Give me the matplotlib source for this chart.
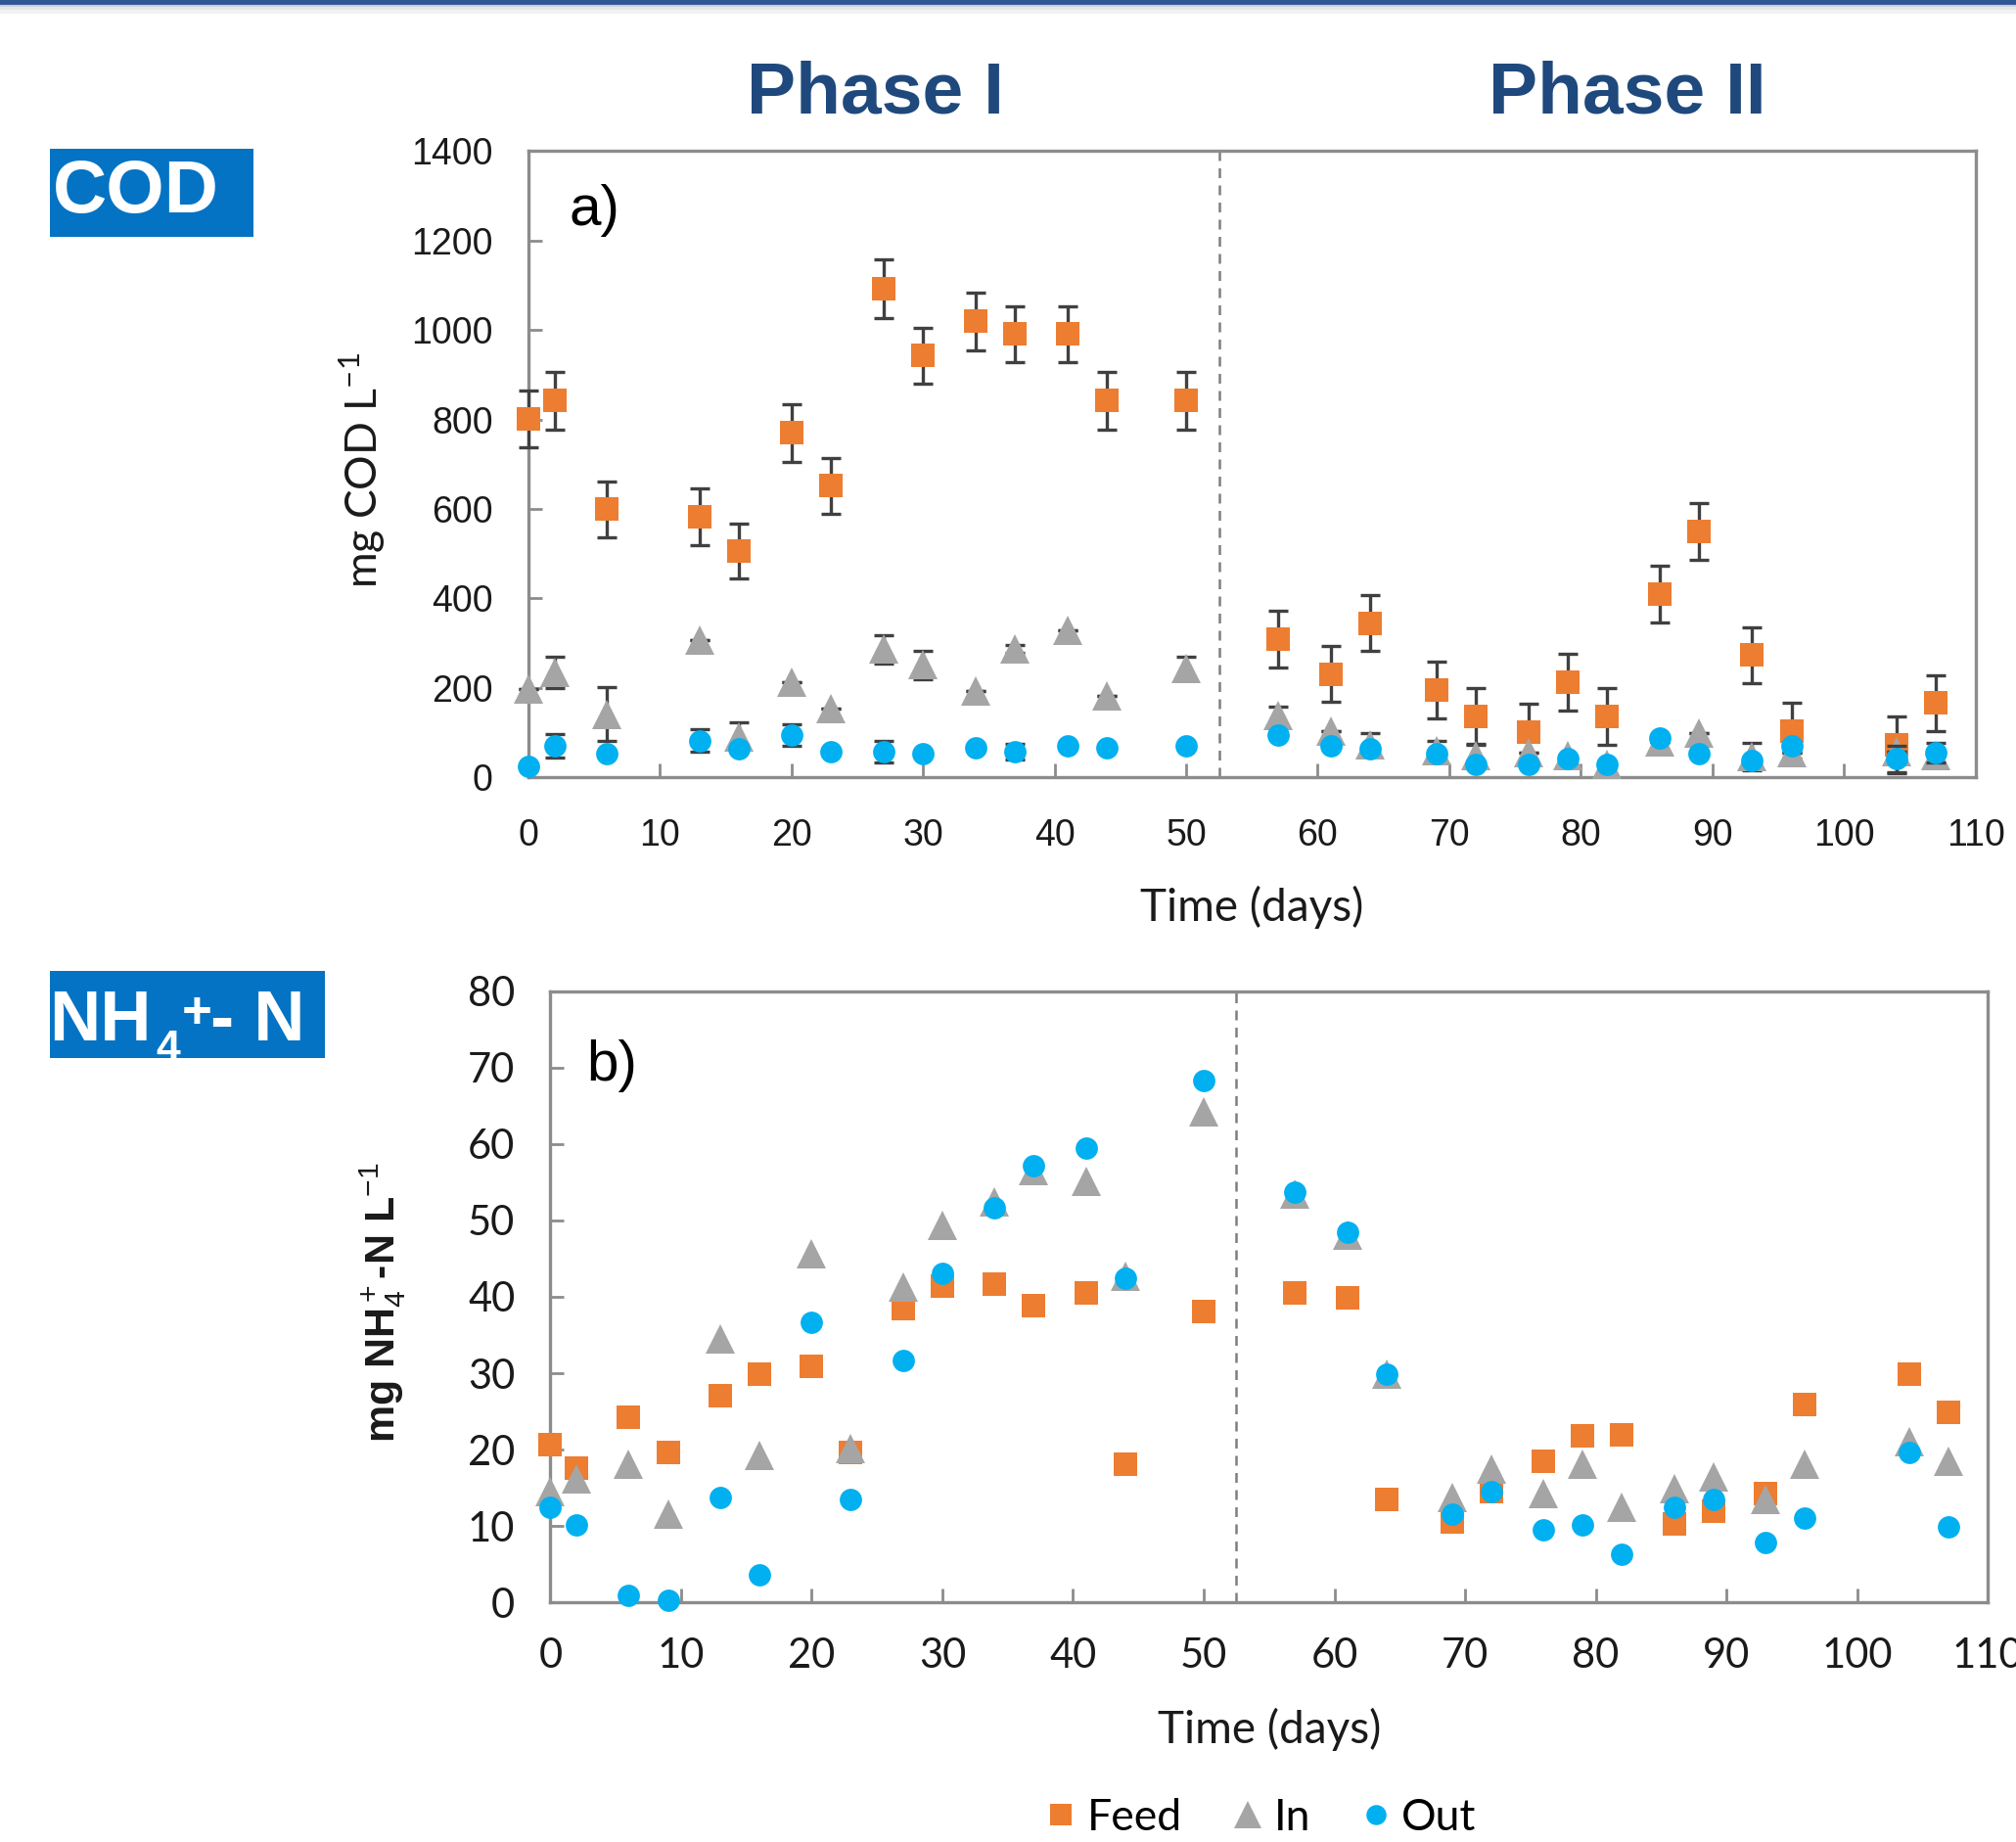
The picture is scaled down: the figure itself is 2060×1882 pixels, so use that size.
import matplotlib
matplotlib.use("Agg")
import matplotlib.pyplot as plt
from matplotlib.patches import Rectangle
from matplotlib.lines import Line2D

# ---------------- data ----------------
days_cod = [0, 2, 6, 13, 16, 20, 23, 27, 30, 34, 37, 41, 44, 50,
            57, 61, 64, 69, 72, 76, 79, 82, 86, 89, 93, 96, 104, 107]
cod_feed = [801, 842, 599, 583, 506, 770, 652, 1092, 943, 1019, 991, 991, 842, 842,
            309, 231, 345, 195, 136, 101, 213, 136, 409, 550, 273, 104, 73, 166]
cod_feed_err = [64, 64, 62, 63, 62, 65, 62, 65, 62, 65, 62, 62, 64, 64,
                64, 63, 63, 63, 63, 63, 63, 63, 63, 63, 63, 63, 63, 63]
cod_in = [198, 234, 141, 306, 91, 213, 153, 286, 251, 194, 287, 328, 181, 243,
          138, 104, 73, 60, 49, 55, 49, 29, 80, 99, 46, 55, 58, 49]
cod_in_err = [0, 35, 60, 0, 33, 0, 0, 32, 31, 0, 8, 0, 0, 27,
              20, 0, 25, 22, 26, 0, 0, 0, 0, 0, 31, 0, 0, 0]
cod_out = [24, 70, 53, 82, 63, 94, 57, 57, 53, 65, 57, 70, 65, 70,
           94, 70, 63, 53, 28, 28, 41, 28, 88, 53, 38, 70, 41, 55]
cod_out_err = [0, 26, 0, 25, 0, 24, 0, 24, 0, 0, 18, 0, 0, 0,
               0, 0, 0, 0, 0, 0, 0, 0, 0, 0, 0, 0, 30, 21]

days_nh4 = [0, 2, 6, 9, 13, 16, 20, 23, 27, 30, 34, 37, 41, 44, 50,
            57, 61, 64, 69, 72, 76, 79, 82, 86, 89, 93, 96, 104, 107]
nh4_feed = [20.6, 17.6, 24.2, 19.6, 27.1, 29.9, 30.9, 19.6, 38.4, 41.4, 41.7, 38.8, 40.5, 18.1, 38.1,
            40.5, 39.8, 13.5, 10.6, 14.5, 18.5, 21.8, 22.0, 10.3, 12.0, 14.2, 25.9, 29.9, 24.9]
nh4_in = [14.5, 16.2, 18.1, 11.6, 34.5, 19.2, 45.6, 20.1, 41.3, 49.3, 52.4, 56.5, 55.1, 42.7, 64.2,
          53.4, 48.0, 29.9, 13.8, 17.5, 14.2, 18.1, 12.5, 14.9, 16.4, 13.5, 18.1, 21.1, 18.5]
nh4_out = [12.4, 10.2, 1.0, 0.3, 13.8, 3.6, 36.6, 13.5, 31.7, 43.1, 51.7, 57.2, 59.5, 42.4, 68.3,
           53.7, 48.4, 29.9, 11.6, 14.5, 9.5, 10.2, 6.3, 12.5, 13.5, 7.8, 11.0, 19.6, 9.9]

series_labels = ["Feed", "In", "Out"]
phase_labels = ["Phase I", "Phase II"]
phase_split = 52.5
cod_yticks = [0, 200, 400, 600, 800, 1000, 1200, 1400]
nh4_yticks = [0, 10, 20, 30, 40, 50, 60, 70, 80]
xticks = [0, 10, 20, 30, 40, 50, 60, 70, 80, 90, 100, 110]

# ---------------- style ----------------
C_FEED = "#ED7D31"
C_IN = "#A5A5A5"
C_OUT = "#00B0F0"
C_ERR = "#404040"
C_SPINE = "#8C8C8C"
C_TITLE = "#1F497D"
C_BOX = "#0473C4"

plt.rcParams["mathtext.fontset"] = "custom"
plt.rcParams["mathtext.rm"] = "Liberation Sans"
plt.rcParams["mathtext.bf"] = "Liberation Sans:bold"
plt.rcParams["mathtext.it"] = "Liberation Sans:italic"

W, H = 2060, 1882
fig = plt.figure(figsize=(W / 200, H / 200), dpi=200)

ax1 = fig.add_axes([0.262, 0.578, 0.718, 0.340])
ax2 = fig.add_axes([0.273, 0.130, 0.713, 0.332])

ms_sq, ms_tri, ms_c = 8.8, 11.0, 8.2


def style_axes(ax, yticks, ylim, tickfont, tsize, xpad):
    ax.set_xlim(0, 110)
    ax.set_ylim(*ylim)
    ax.set_xticks(xticks)
    ax.set_yticks(yticks)
    for s in ax.spines.values():
        s.set_color(C_SPINE)
        s.set_linewidth(1.2)
    ax.tick_params(direction="in", length=5, width=1.0, color=C_SPINE,
                   labelsize=tsize, labelcolor="#1a1a1a")
    ax.tick_params(axis="x", pad=xpad)
    ax.tick_params(axis="y", pad=13)
    for lab in ax.get_xticklabels() + ax.get_yticklabels():
        lab.set_fontfamily(tickfont)
    ax.axvline(phase_split, color="#7f7f7f", lw=0.9, ls=(0, (4, 3)), zorder=1)


def err_series(ax, x, y, e, marker, color, ms, z):
    ax.errorbar(x, y, yerr=e, fmt="none", ecolor=C_ERR, elinewidth=1.2,
                capsize=3.6, capthick=1.2, zorder=z, clip_on=False)
    ax.plot(x, y, marker, color=color, ms=ms, mew=0, zorder=z + 0.5, clip_on=False)


# ---- panel a ----
style_axes(ax1, cod_yticks, (0, 1400), "Liberation Sans", 13.5, 15)
err_series(ax1, days_cod, cod_feed, cod_feed_err, "s", C_FEED, ms_sq, 3)
err_series(ax1, days_cod, cod_in, cod_in_err, "^", C_IN, ms_tri, 4)
err_series(ax1, days_cod, cod_out, cod_out_err, "o", C_OUT, ms_c, 5)
ax1.set_xlabel("Time (days)", fontsize=16.5, family="Lato", labelpad=12, color="#1a1a1a")
ax1.set_ylabel("mg COD L$^{\\mathregular{-1}}$", fontsize=16, family="Lato", color="#1a1a1a")
ax1.yaxis.set_label_coords(-0.097, 0.49)
ax1.text(0.028, 0.905, "a)", transform=ax1.transAxes, fontsize=21,
         family="Liberation Sans", va="center", ha="left")

# ---- panel b ----
style_axes(ax2, nh4_yticks, (0, 80), "Lato", 15, 13)
ax2.plot(days_nh4, nh4_feed, "s", color=C_FEED, ms=ms_sq, mew=0, zorder=3, clip_on=False,
         label=series_labels[0])
ax2.plot(days_nh4, nh4_in, "^", color=C_IN, ms=ms_tri, mew=0, zorder=4, clip_on=False,
         label=series_labels[1])
ax2.plot(days_nh4, nh4_out, "o", color=C_OUT, ms=ms_c, mew=0, zorder=5, clip_on=False,
         label=series_labels[2])
ax2.set_xlabel("Time (days)", fontsize=16.5, family="Lato", labelpad=12, color="#1a1a1a")
ax2.set_ylabel("mg NH$_4^+$-N L$^{-1}$", fontsize=15.5, family="Liberation Sans",
               fontweight="bold", color="#1a1a1a")
ax2.yaxis.set_label_coords(-0.099, 0.49)
ax2.text(0.025, 0.878, "b)", transform=ax2.transAxes, fontsize=21,
         family="Liberation Sans", va="center", ha="left")

# ---- phase titles ----
fig.text(0.434, 0.949, phase_labels[0], fontsize=27, fontweight="bold",
         family="Liberation Sans", color=C_TITLE, ha="center", va="center")
fig.text(0.807, 0.949, phase_labels[1], fontsize=27, fontweight="bold",
         family="Liberation Sans", color=C_TITLE, ha="center", va="center")

# ---- side boxes ----
fig.patches.append(Rectangle((0.0248, 0.8714), 0.101, 0.0478, transform=fig.transFigure,
                             facecolor=C_BOX, edgecolor="none", zorder=1))
fig.text(0.026, 0.8953, "COD", fontsize=27.5, fontweight="bold", family="Liberation Sans",
         color="white", ha="left", va="center", zorder=2)
fig.patches.append(Rectangle((0.0248, 0.4256), 0.1364, 0.0473, transform=fig.transFigure,
                             facecolor=C_BOX, edgecolor="none", zorder=1))


def ftxt(xpx, ybase_px, s, size):
    fig.text(xpx / W, 1 - ybase_px / H, s, fontsize=size, fontweight="bold",
             family="Liberation Sans", color="white", ha="left", va="baseline", zorder=2)


ftxt(50, 1063, "NH", 26)
ftxt(159, 1084, "4", 16)
ftxt(186, 1050, "+", 19)
ftxt(215, 1063, "- N", 26)

# ---- top banner line ----
for y, c, lw in [(0.9985, "#2F5597", 3.0), (0.9962, "#c9cdd6", 1.5),
                 (0.9950, "#e3e5ea", 1.5), (0.9938, "#f1f2f4", 1.5)]:
    fig.add_artist(Line2D([0, 1], [y, y], transform=fig.transFigure, color=c, lw=lw))

# ---- legend ----
handles, labels = ax2.get_legend_handles_labels()
fig.legend(handles, labels, loc="center", bbox_to_anchor=(0.624, 0.013), ncol=3,
           frameon=False, prop={"family": "Lato", "size": 16}, handletextpad=0.1,
           columnspacing=1.0, handlelength=1.0, markerscale=0.9)

fig.savefig("out.png", dpi=200, facecolor="white")
